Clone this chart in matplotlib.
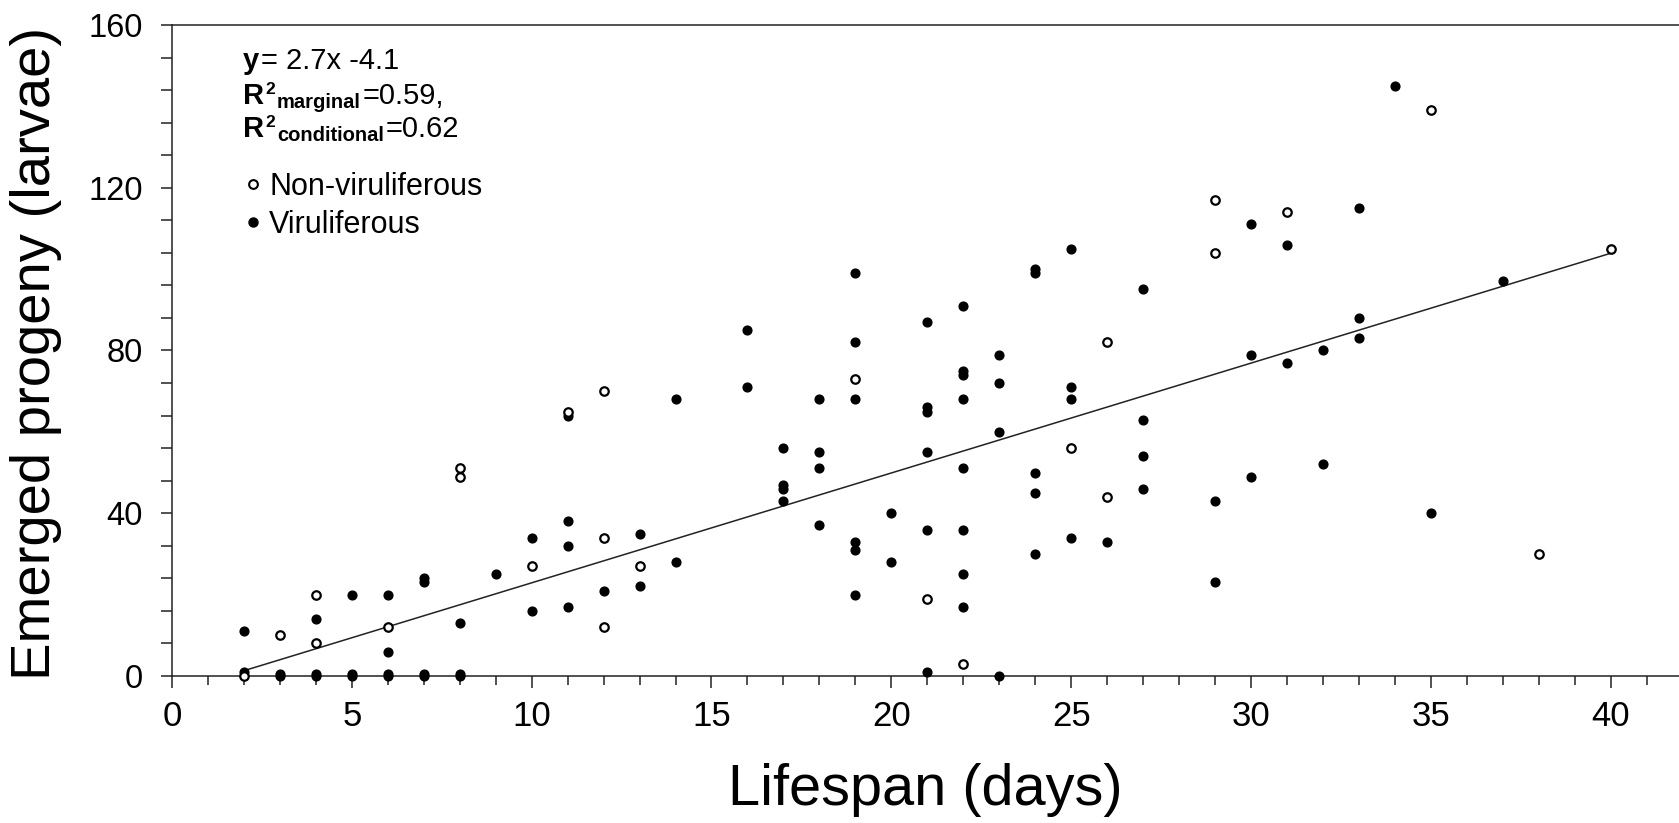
import matplotlib
matplotlib.use("Agg")
import matplotlib.pyplot as plt
from matplotlib.ticker import MultipleLocator
from matplotlib.lines import Line2D

plt.rcParams['font.family'] = ['Liberation Sans', 'DejaVu Sans']

# Viruliferous (filled dots): lifespan (days), emerged progeny
vir_days = [2, 2, 3, 3, 4, 4, 4, 5, 5, 5, 6, 6, 6, 6, 7, 7, 7, 7, 8, 8, 8,
            9, 10, 10, 11, 11, 11, 11, 12, 13, 13, 14, 14, 16, 16,
            17, 17, 17, 17, 18, 18, 18, 18, 19, 19, 19, 19, 19, 19,
            20, 20, 21, 21, 21, 21, 21, 21, 22, 22, 22, 22, 22, 22, 22, 22,
            23, 23, 23, 23, 24, 24, 24, 24, 24, 25, 25, 25, 25,
            26, 27, 27, 27, 27, 29, 29, 30, 30, 30, 31, 31, 32, 32,
            33, 33, 33, 34, 35, 37]
vir_progeny = [11, 1, 0, 0.4, 14, 0, 0.4, 20, 0, 0.4, 20, 6, 0, 0.4, 24, 23, 0, 0.4, 13, 0, 0.4,
               25, 34, 16, 64, 38, 32, 17, 21, 35, 22, 68, 28, 85, 71,
               56, 47, 46, 43, 68, 55, 51, 37, 99, 82, 68, 33, 31, 20,
               40, 28, 87, 66, 65, 55, 36, 1, 91, 75, 74, 68, 51, 36, 25, 17,
               79, 72, 60, 0, 100, 99, 50, 45, 30, 105, 71, 68, 34,
               33, 95, 63, 54, 46, 43, 23, 111, 79, 49, 106, 77, 80, 52,
               115, 88, 83, 145, 40, 97]

# Non-viruliferous (open circles)
non_days = [2, 3, 4, 4, 6, 8, 8, 10, 11, 12, 12, 12, 13, 19, 21, 22,
            25, 26, 26, 29, 29, 31, 35, 38, 40]
non_progeny = [0, 10, 20, 8, 12, 51, 49, 27, 65, 70, 34, 12, 27, 73, 19, 3,
               56, 82, 44, 117, 104, 114, 139, 30, 105]

# fitted line y = 2.7x - 4.1
slope = 2.7
intercept = -4.1
fit_range = [2, 40]
r2_marginal = 0.59
r2_conditional = 0.62

W, H = 1679, 823
fig = plt.figure(figsize=(W / 100, H / 100), dpi=100)
ax = fig.add_axes([172 / W, 1 - 676 / H, 1 - 172 / W, (676 - 25) / H])

fit_y = [slope * x + intercept for x in fit_range]
ax.plot(fit_range, fit_y, color='#222222', lw=1.1, zorder=2)

ax.plot(vir_days, vir_progeny, 'o', ls='none', color='black', ms=6.3,
        clip_on=False, zorder=4)
ax.plot(non_days, non_progeny, 'o', ls='none', mfc='white', mec='black',
        ms=6.1, mew=1.6, clip_on=False, zorder=5)

ax.set_xlim(0, 41.9)
ax.set_ylim(0, 160)

ax.xaxis.set_major_locator(MultipleLocator(5))
ax.xaxis.set_minor_locator(MultipleLocator(1))
ax.yaxis.set_major_locator(MultipleLocator(40))
ax.yaxis.set_minor_locator(MultipleLocator(8))
ax.tick_params(axis='x', which='major', direction='out', length=8.6, width=1.1,
               labelsize=25, pad=9, color='#222222')
ax.tick_params(axis='x', which='minor', direction='out', length=6.5, width=1.1,
               color='#222222')
ax.tick_params(axis='y', which='both', direction='out', length=8, width=1.1,
               color='#222222')
ax.tick_params(axis='y', which='major', labelsize=23.5, pad=13)

for side in ['left', 'bottom', 'top']:
    ax.spines[side].set_linewidth(1.1)
    ax.spines[side].set_color('#222222')
ax.spines['right'].set_visible(False)

ax.set_xlabel('Lifespan (days)', fontsize=41.5)
ax.xaxis.set_label_coords(0.5, -0.133)
ax.set_ylabel('Emerged progeny (larvae)', fontsize=40.5)
ax.yaxis.set_label_coords(-0.073, 0.4954)

# equation block, written piece by piece (bold R, superscript, subscript)
renderer = fig.canvas.get_renderer()


def put_pieces(x0, base, pieces):
    x = x0
    for txt, size, weight, rise in pieces:
        t = fig.text(x / W, 1 - (base - rise) / H, txt, fontsize=size,
                     fontweight=weight, va='baseline', ha='left')
        x += t.get_window_extent(renderer).width + 1.5


put_pieces(243, 69, [('y', 21, 'bold', 0),
                     ('= %.1fx %.1f' % (slope, intercept), 21, 'normal', 0)])
put_pieces(243, 103.5, [('R', 21, 'bold', 0), ('2', 12.5, 'bold', 10),
                        ('marginal', 14.5, 'bold', -4),
                        ('=%.2f,' % r2_marginal, 21, 'normal', 0)])
put_pieces(243, 137, [('R', 21, 'bold', 0), ('2', 12.5, 'bold', 10),
                      ('conditional', 14.5, 'bold', -4),
                      ('=%.2f' % r2_conditional, 21, 'normal', 0)])

handles = [
    Line2D([], [], marker='o', ls='none', mfc='white', mec='black', ms=6.3, mew=1.5),
    Line2D([], [], marker='o', ls='none', color='black', ms=6.5),
]
ax.legend(handles, ['Non-viruliferous', 'Viruliferous'], loc='upper left',
          bbox_to_anchor=(0.0474, 0.774),
          frameon=False, fontsize=22, handlelength=0.6, handletextpad=0.24,
          labelspacing=0.26, borderaxespad=0, borderpad=0)

fig.savefig('out.png', dpi=100)
